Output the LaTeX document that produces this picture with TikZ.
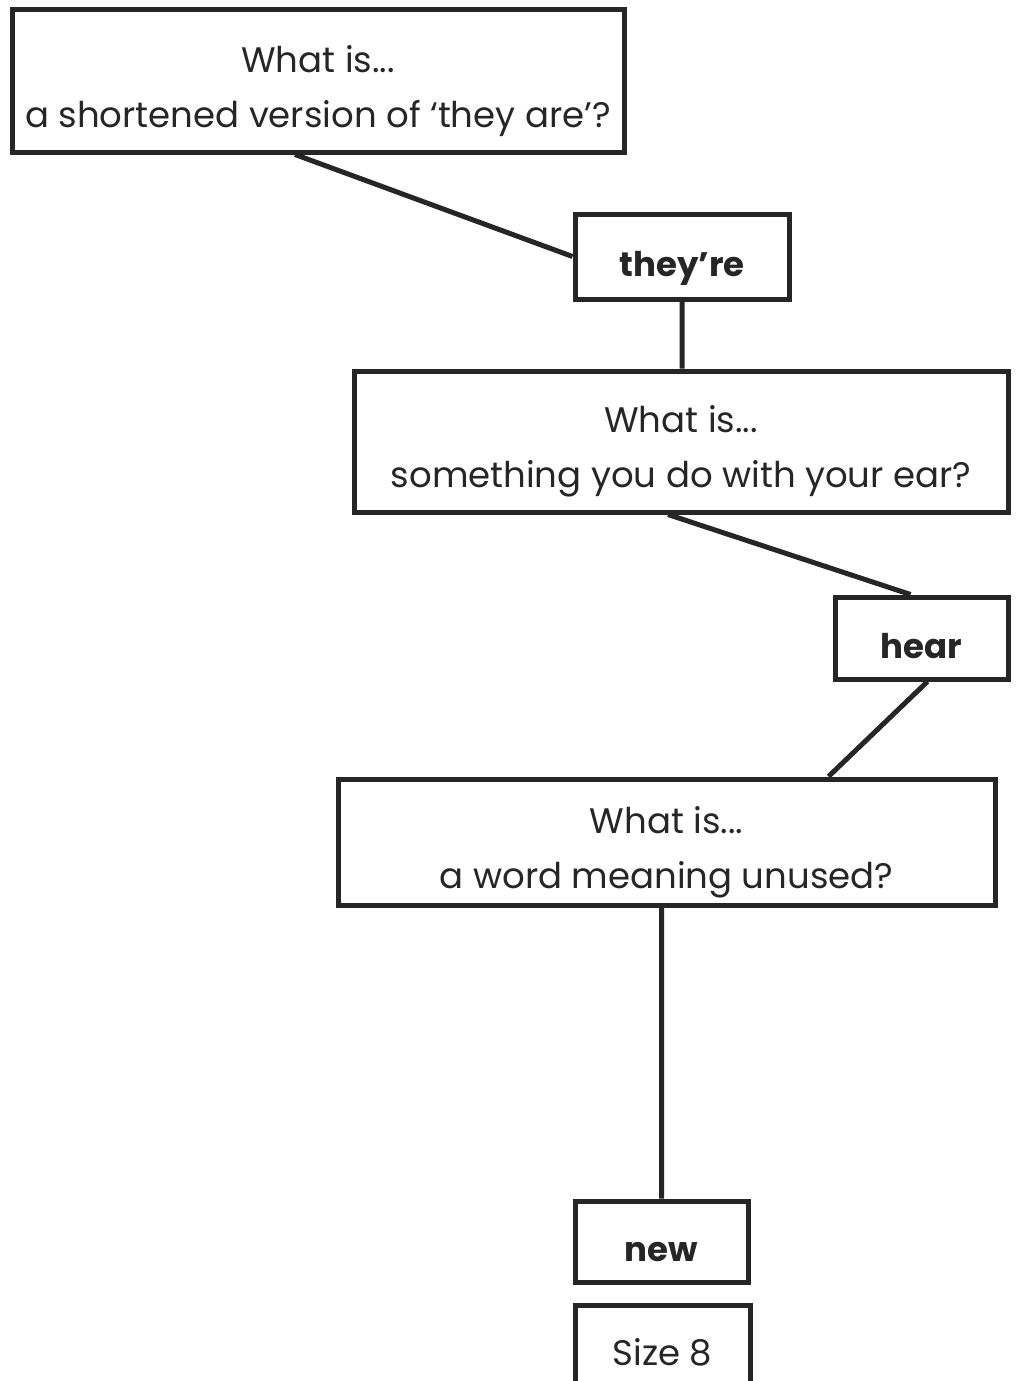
\documentclass[tikz,border=0pt]{standalone}
\usepackage{fontspec}
\setmainfont{Poppins}
\usepackage{tikz}
\usetikzlibrary{positioning}
\definecolor{inkgray}{HTML}{262626}
\newcommand{\qstrut}{\rule{0pt}{47pt}}

\begin{document}
\begin{tikzpicture}[
					%Environment config
					x=1pt,y=-1pt,
					line width=5pt,
					color=inkgray,
					%Environment styles
					QuestionCfg/.style={
						draw,
						align=center,
						inner sep=0pt,
						font=\fontsize{35.5}{55}\selectfont
					},
					AnswerCfg/.style={
						draw,
						inner sep=0pt,
						text height=40pt,
						text depth=0pt,
						font=\fontsize{34}{40}\selectfont\bfseries
					},
					SizeCfg/.style={
						draw,
						inner sep=0pt,
						text height=30pt,
						text depth=0pt,
						font=\fontsize{35.5}{40}\selectfont
					}
					]
					\useasboundingbox (0,0) rectangle (1018,1381);
					% questions and answers
					\node[QuestionCfg,minimum width=612pt,minimum height=142pt](Q1) at (318,81)
					{\qstrut What is...\\a shortened version of `they are'?};
					\node[AnswerCfg,minimum width=214pt,minimum height=85pt](A1) at (682,256.5){they're};
					\node[QuestionCfg,minimum width=654pt,minimum height=141pt](Q2) at (681,441.5)
					{\qstrut What is...\\something you do with your ear?};
					\node[AnswerCfg,minimum width=173pt,minimum height=82pt](A2) at (921.5,638){hear};
					\node[QuestionCfg,minimum width=657pt,minimum height=126pt](Q3) at (666.5,842)
					{\qstrut What is...\\a word meaning unused?};
					\node[AnswerCfg,minimum width=173pt,minimum height=81pt](A3) at (661.5,1241.5){new};
					\node[SizeCfg,minimum width=175pt,minimum height=90pt](Size) at (662.5,1350){Size 8};
					
					\draw
					([xshift=-23pt]Q1.south) -- (A1.west)
					(A1.south) -- (A1.south |- Q2.north)
					([xshift=-13pt]Q2.south) -- ([xshift=-11pt]A2.north)
					([xshift=6pt]A2.south) -- ([xshift=162pt]Q3.north)
					(A3.north |- Q3.south) -- (A3.north);
				\end{tikzpicture}
\end{document}
